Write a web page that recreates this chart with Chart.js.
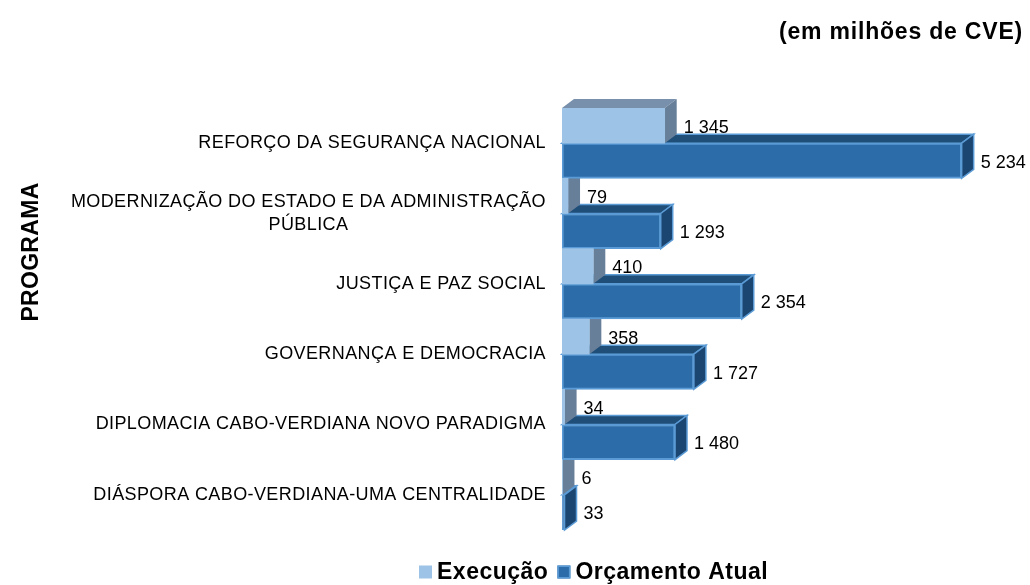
<!DOCTYPE html>
<html>
<head>
<meta charset="utf-8">
<script src="https://cdn.jsdelivr.net/npm/chart.js@4.4.1/dist/chart.umd.min.js"></script>
<style>
  html, body { margin: 0; padding: 0; background: #fff; }
  #wrap { width: 1030px; height: 585px; }
</style>
</head>
<body>
<div id="wrap"><canvas id="chart"></canvas></div>
<script>
// data (millions of CVE)
const programas = [
  'REFORÇO DA SEGURANÇA NACIONAL',
  ['MODERNIZAÇÃO DO ESTADO E DA ADMINISTRAÇÃO', 'PÚBLICA'],
  'JUSTIÇA E PAZ SOCIAL',
  'GOVERNANÇA E DEMOCRACIA',
  'DIPLOMACIA CABO-VERDIANA NOVO PARADIGMA',
  'DIÁSPORA CABO-VERDIANA-UMA CENTRALIDADE'
];
const execucao  = [1345, 79, 410, 358, 34, 6];
const orcamento = [5234, 1293, 2354, 1727, 1480, 33];
const nomesSeries = ['Execução', 'Orçamento Atual'];
const tituloUnidade = '(em milhões de CVE)';
const tituloEixo = 'PROGRAMA';

const DX = 12, DY = 9; // depth offset of the fake 3d
const FONT = '"Liberation Sans", Arial, sans-serif';
const faces = [
  { front: '#9DC3E6', top: '#7890AB', side: '#687F9A', stroke: null },
  { front: '#2C6CA8', top: '#1F4E79', side: '#1C4672', stroke: '#5B9BD5' }
];

function fmt(v) {
  return String(v).replace(/\B(?=(\d{3})+(?!\d))/g, ' ');
}

function barBox(el) {
  const p = el.getProps(['x', 'y', 'base', 'height'], true);
  return {
    l: Math.min(p.base, p.x), r: Math.max(p.base, p.x),
    t: p.y - p.height / 2, b: p.y + p.height / 2, y: p.y
  };
}

function poly(ctx, pts, fill, stroke) {
  ctx.beginPath();
  ctx.moveTo(pts[0][0], pts[0][1]);
  for (let i = 1; i < pts.length; i++) ctx.lineTo(pts[i][0], pts[i][1]);
  ctx.closePath();
  ctx.fillStyle = fill;
  ctx.fill();
  if (stroke) {
    ctx.strokeStyle = stroke;
    ctx.lineWidth = 1.5;
    ctx.stroke();
  }
}

const depthPlugin = {
  id: 'depth3d',
  beforeDatasetsDraw(chart) {
    const ctx = chart.ctx;
    ctx.save();
    // back faces first, orçamento under execução
    [1, 0].forEach(di => {
      const f = faces[di];
      chart.getDatasetMeta(di).data.forEach(el => {
        const b = barBox(el);
        poly(ctx, [[b.l, b.t], [b.l + DX, b.t - DY], [b.r + DX, b.t - DY], [b.r, b.t]], f.top, f.stroke);
        poly(ctx, [[b.r, b.t], [b.r + DX, b.t - DY], [b.r + DX, b.b - DY], [b.r, b.b]], f.side, f.stroke);
      });
    });
    ctx.restore();
  },
  afterDatasetsDraw(chart) {
    const ctx = chart.ctx;
    ctx.save();
    ctx.font = '18px ' + FONT;
    ctx.fillStyle = '#000';
    ctx.textAlign = 'left';
    ctx.textBaseline = 'middle';
    chart.data.datasets.forEach((ds, di) => {
      chart.getDatasetMeta(di).data.forEach((el, i) => {
        const b = barBox(el);
        ctx.fillText(fmt(ds.data[i]), b.r + DX + 7, b.y + 2);
      });
    });
    ctx.restore();
  },
  afterDraw(chart) {
    const ctx = chart.ctx;
    const ys = chart.scales.y;
    ctx.save();
    // category labels
    ctx.fillStyle = '#000';
    ctx.font = '18px ' + FONT;
    ctx.letterSpacing = '0.4px';
    ctx.textBaseline = 'middle';
    ctx.textAlign = 'center';
    const right = 546, lh = 23;
    programas.forEach((lab, i) => {
      const lines = Array.isArray(lab) ? lab : [lab];
      const w = Math.max(...lines.map(s => ctx.measureText(s).width));
      const cy = ys.getPixelForValue(i);
      lines.forEach((s, k) => {
        ctx.fillText(s, right - w / 2, cy + (k - (lines.length - 1) / 2) * lh);
      });
    });
    // unit title
    ctx.font = 'bold 23px ' + FONT;
    ctx.letterSpacing = '0.8px';
    ctx.textAlign = 'right';
    ctx.fillText(tituloUnidade, 1023, 33);
    // axis title
    ctx.save();
    ctx.translate(32, 252);
    ctx.rotate(-Math.PI / 2);
    ctx.font = 'bold 23px ' + FONT;
    ctx.letterSpacing = '0.3px';
    ctx.textAlign = 'center';
    ctx.fillText(tituloEixo, 0, 0);
    ctx.restore();
    // legend
    ctx.font = 'bold 23px ' + FONT;
    ctx.letterSpacing = '0.5px';
    ctx.textAlign = 'left';
    const box = 13, gapBox = 5, gapItem = 9, ly = 572;
    let x = 419;
    nomesSeries.forEach((n, i) => {
      ctx.fillStyle = faces[i].front;
      ctx.fillRect(x, ly - box / 2, box, box);
      if (faces[i].stroke) {
        ctx.strokeStyle = faces[i].stroke;
        ctx.lineWidth = 1.5;
        ctx.strokeRect(x + 0.75, ly - box / 2 + 0.75, box - 1.5, box - 1.5);
      }
      ctx.fillStyle = '#000';
      ctx.fillText(n, x + box + gapBox, ly + 1);
      x += box + gapBox + ctx.measureText(n).width + gapItem;
    });
    ctx.restore();
  }
};

const ctx = document.getElementById('chart').getContext('2d');
const myChart = new Chart(ctx, {
  type: 'bar',
  data: {
    labels: programas,
    datasets: [
      {
        label: nomesSeries[0],
        data: execucao,
        backgroundColor: faces[0].front,
        borderWidth: 0
      },
      {
        label: nomesSeries[1],
        data: orcamento,
        backgroundColor: faces[1].front,
        borderColor: faces[1].stroke,
        borderWidth: 2,
        borderSkipped: false
      }
    ]
  },
  options: {
    indexAxis: 'y',
    responsive: true,
    maintainAspectRatio: false,
    animation: false,
    layout: {
      padding: { left: 562, right: 48, top: 108, bottom: 55 }
    },
    datasets: {
      bar: { categoryPercentage: 1.0, barPercentage: 1.0 }
    },
    scales: {
      x: { display: false, min: 0, max: 5500 },
      y: { display: false }
    },
    plugins: {
      legend: { display: false },
      title: { display: false },
      tooltip: { enabled: false }
    }
  },
  plugins: [depthPlugin]
});
</script>
</body>
</html>
